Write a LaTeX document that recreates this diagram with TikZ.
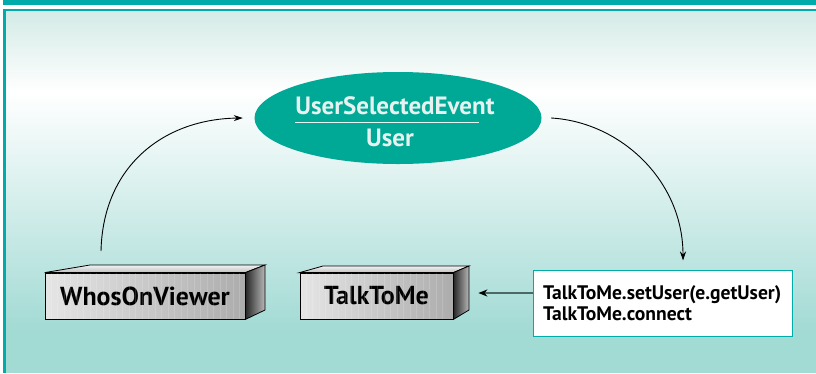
\documentclass[tikz,border=0pt]{standalone}
\usepackage{fontspec}
\setmainfont{PT Sans}
\usetikzlibrary{shapes.geometric,arrows.meta,positioning}

\definecolor{tealbar}{HTML}{00ABA9}
\definecolor{tealfill}{HTML}{00A896}
\definecolor{fondoarriba}{HTML}{D3EBE6}
\definecolor{fondoabajo}{HTML}{A2DAD4}
\definecolor{textoclaro}{HTML}{E6F2EF}
\definecolor{flechagris}{HTML}{4A6866}

\tikzset{
  caja/.style={draw=black, line width=0.8pt, minimum height=46pt, inner sep=0pt,
    left color=gray!20, right color=gray!65,
    font=\bfseries\fontsize{26}{29}\selectfont},
  tapa/.style={draw=black, line width=0.8pt, top color=gray!10, bottom color=gray!50},
  lado/.style={draw=black, line width=0.8pt, left color=black!85, right color=gray!55},
  evento/.style={ellipse, fill=tealfill, minimum width=287pt, minimum height=92pt, inner sep=0pt},
  textoevento/.style={text=textoclaro, font=\bfseries\fontsize{25}{28}\selectfont, inner sep=0pt},
  codigo/.style={draw=tealbar, line width=1pt, fill=white, align=left, text width=239pt,
    inner xsep=10pt, minimum height=66pt, font=\bfseries\fontsize{19.6}{21}\selectfont},
  flecha/.style={-{Stealth[length=9pt,width=6pt]}, line width=0.9pt},
}

\begin{document}
\begin{tikzpicture}[x=1pt,y=-1pt]
    \useasboundingbox (0,0) rectangle (816,373);

    %Fondo
    \fill[tealbar] (3,0) rectangle (816,5);
    \fill[top color=fondoarriba, bottom color=white] (3,10) rectangle (816,92);
    \fill[top color=white, bottom color=fondoabajo] (3,92) rectangle (816,332);
    \fill[fondoabajo] (3,332) rectangle (816,373);
    \draw[tealbar, line width=2.5pt] (4.5,373) -- (4.5,10) -- (816,10);

    %Evento
    \node[evento] (evento) at (398,118) {};
    \node[textoevento, anchor=base] (nombre) at (395,114) {UserSelectedEvent};
    \node[textoevento, anchor=base] (dato) at (390,146) {User};
    \draw[textoclaro, line width=1pt] (295,122) -- (479,122);

    %Caja WhosOnViewer
    \node[caja, minimum width=200pt] (viewer) at (145,296) {WhosOnViewer};
    \foreach \i in {1,...,30}{
        \draw[white, opacity=0.15] ([xshift=\i*6.5pt]viewer.south west) -- ([xshift=\i*6.5pt]viewer.north west);
    }
    \draw[tapa] (viewer.north west) -- (90,265) -- (265,265) -- (viewer.north east) -- cycle;
    \draw[lado] (viewer.north east) -- (265,265) -- (265,310) -- (viewer.south east) -- cycle;

    %Caja TalkToMe
    \node[caja, minimum width=153pt] (talk) at (376.5,296) {TalkToMe};
    \foreach \i in {1,...,22}{
        \draw[white, opacity=0.15] ([xshift=\i*6.5pt]talk.south west) -- ([xshift=\i*6.5pt]talk.north west);
    }
    \draw[tapa] (talk.north west) -- (323,266) -- (469,266) -- (talk.north east) -- cycle;
    \draw[lado] (talk.north east) -- (469,266) -- (469,310) -- (talk.south east) -- cycle;

    %Codigo
    \node[codigo] (codigo) at (662.5,303) {TalkToMe.setUser(e.getUser)\\TalkToMe.connect};

    %Flechas
    \coordinate (inicio) at (101,251);
    \draw[flecha] (inicio) .. controls (103,165) and (165,119) .. ([xshift=-11.5pt]evento.west);
    \draw[flecha] ([xshift=9.5pt]evento.east) .. controls (620,122) and (683,180) .. ([xshift=20.5pt,yshift=9pt]codigo.north);
    \draw[flecha, flechagris, line width=1.6pt, -{Stealth[length=9pt,width=7pt,black]}] ([yshift=10pt]codigo.west) -- ([xshift=25pt,yshift=3pt]talk.east);

\end{tikzpicture}
\end{document}
